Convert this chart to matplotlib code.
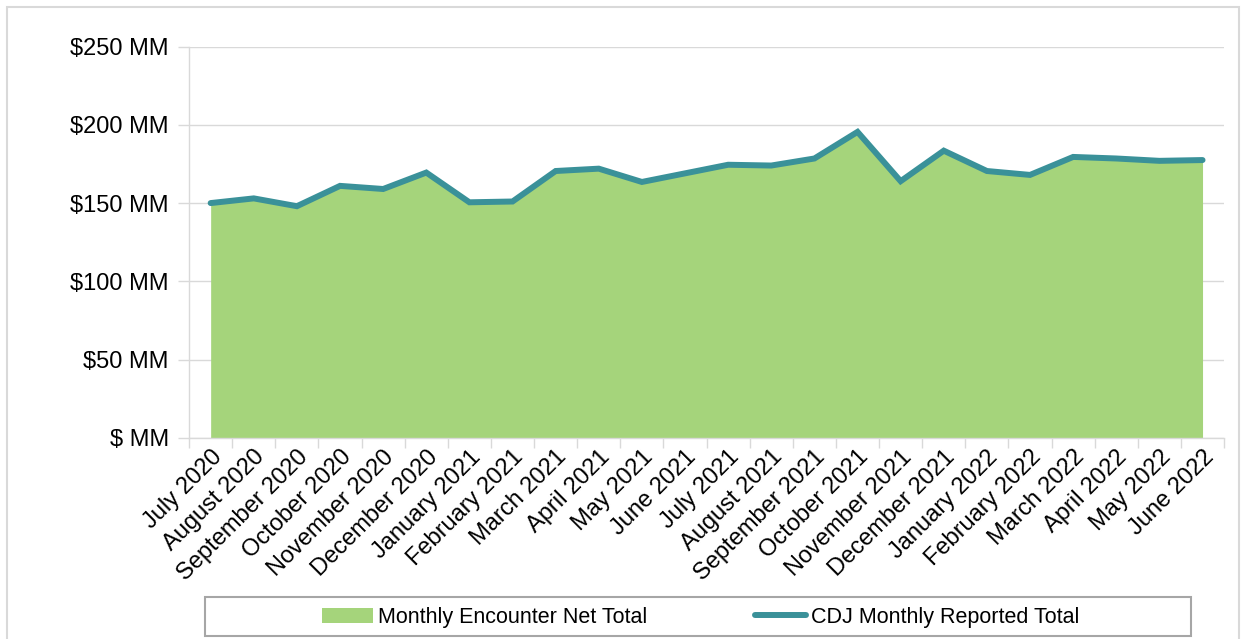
import matplotlib.pyplot as plt
from matplotlib.patches import Rectangle
from matplotlib.ticker import FuncFormatter

plt.rcParams['font.family'] = ['Liberation Sans', 'DejaVu Sans']

months = [
    "July 2020", "August 2020", "September 2020", "October 2020",
    "November 2020", "December 2020", "January 2021", "February 2021",
    "March 2021", "April 2021", "May 2021", "June 2021",
    "July 2021", "August 2021", "September 2021", "October 2021",
    "November 2021", "December 2021", "January 2022", "February 2022",
    "March 2022", "April 2022", "May 2022", "June 2022",
]

# values in $ millions
encounter_net = [150, 153, 148, 161, 159, 169.5, 150.5, 151, 170.5, 172, 163.5, 169,
                 174.5, 174, 178.5, 195.5, 164, 183.5, 170.5, 168, 179.5, 178.5, 177, 177.5]
cdj_reported = [150, 153, 148, 161, 159, 169.5, 150.5, 151, 170.5, 172, 163.5, 169,
                174.5, 174, 178.5, 195.5, 164, 183.5, 170.5, 168, 179.5, 178.5, 177, 177.5]

green = "#a5d47b"
teal = "#3a9199"
grid_col = "#d9d9d9"

fig = plt.figure(figsize=(12.44, 6.39), dpi=100)
ax = fig.add_axes([0.152, 0.315, 0.832, 0.612])

x = range(len(months))
ax.fill_between(x, encounter_net, 0, color=green, linewidth=0,
                label="Monthly Encounter Net Total")
ax.plot(x, cdj_reported, color=teal, linewidth=4.3, solid_capstyle="round",
        solid_joinstyle="miter", label="CDJ Monthly Reported Total")

ax.set_xlim(-0.5, len(months) - 0.5)
ax.set_ylim(0, 250)
ax.set_yticks(range(0, 251, 50))
ax.yaxis.set_major_formatter(FuncFormatter(lambda v, p: "$ MM" if v == 0 else f"${v:.0f} MM"))
ax.grid(axis="y", color=grid_col, linewidth=1)
ax.set_axisbelow(True)

# ticks between categories, labels at category centres
ax.set_xticks([i - 0.5 for i in range(len(months) + 1)])
ax.set_xticklabels([])
ax.set_xticks(list(x), minor=True)
ax.set_xticklabels(months, minor=True, rotation=45, ha="right", va="top",
                   rotation_mode="anchor", fontsize=17)
ax.tick_params(axis="x", which="minor", length=0, pad=6)
ax.tick_params(axis="x", which="major", length=7, color=grid_col, width=1)
ax.tick_params(axis="y", length=8, color=grid_col, width=1, labelsize=17, pad=6.5)

for side in ["top", "right"]:
    ax.spines[side].set_visible(False)
for side in ["left", "bottom"]:
    ax.spines[side].set_color(grid_col)
    ax.spines[side].set_linewidth(1)

leg = fig.legend(loc="center", bbox_to_anchor=(0.563, 0.034), ncol=2,
                 frameon=False, fontsize=15.5, handlelength=2.4,
                 handletextpad=0.2, columnspacing=5.0)

# legend frame and outer chart border
fig.patches.append(Rectangle((0.165, 0.004), 0.792, 0.061, transform=fig.transFigure,
                             fill=False, edgecolor="#a6a6a6", linewidth=1.5))
fig.patches.append(Rectangle((0.006, -0.01), 0.99, 0.999, transform=fig.transFigure,
                             fill=False, edgecolor=grid_col, linewidth=1.5))

fig.savefig("out.png", dpi=100)
